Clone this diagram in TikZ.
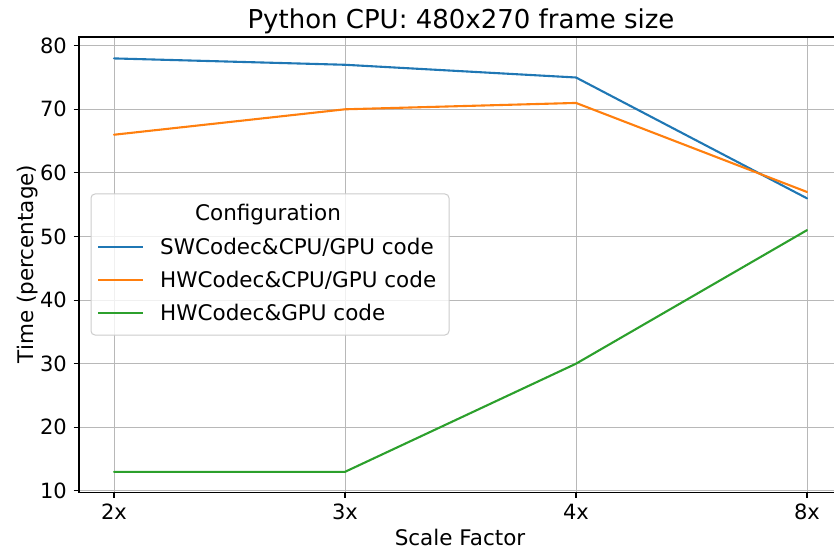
\documentclass[tikz,border=0pt]{standalone}
\usepackage{fontspec}
\setmainfont{DejaVu Sans}
\definecolor{tabblue}{HTML}{1F77B4}
\definecolor{taborange}{HTML}{FF7F0E}
\definecolor{tabgreen}{HTML}{2CA02C}
\definecolor{gridgray}{HTML}{B8B8B8}
\definecolor{legedge}{HTML}{CCCCCC}
\begin{document}
\begin{tikzpicture}[x=1pt,y=-1pt,
  gridline/.style={gridgray,line width=0.9pt},
  spine/.style={black,line width=1.1pt},
  tickmark/.style={black,line width=1.1pt},
  series/.style={line width=2.1pt,line join=round,line cap=round},
  ticklabel/.style={font=\fontsize{21}{21}\selectfont,inner sep=0pt},
  biglabel/.style={font=\fontsize{21.5}{21.5}\selectfont,inner sep=0pt},
  legtext/.style={font=\fontsize{21.5}{21.5}\selectfont,inner sep=0pt,anchor=base west},
  declare function={Y(\v)=490.9-6.36*(\v-10);}
]
\useasboundingbox (0,0) rectangle (834,553);
% grid
\foreach \xx in {114,345,576,807} \draw[gridline] (\xx,37) -- (\xx,492.5);
\foreach \v in {10,20,...,80} \draw[gridline] (79,{Y(\v)}) -- (842,{Y(\v)});
% spines
\draw[spine] (842,37) -- (79,37) -- (79,492.5) -- (842,492.5);
% ticks and tick labels
\foreach \xx/\lab in {114/2x,345/3x,576/4x,807/8x} {
  \draw[tickmark] (\xx,492.5) -- (\xx,498);
  \node[ticklabel,anchor=base] (xt\lab) at (\xx,519.5) {\lab};
}
\foreach \v in {10,20,...,80} {
  \draw[tickmark] (73.5,{Y(\v)}) -- (79,{Y(\v)});
  \node[ticklabel,anchor=east] (yt\v) at (67,{Y(\v)}) {\v};
}
% series
\draw[series,tabblue] (114,{Y(78)}) -- (345,{Y(77)}) -- (576,{Y(75)}) -- (807,{Y(56)});
\draw[series,taborange] (114,{Y(66)}) -- (345,{Y(70)}) -- (576,{Y(71)}) -- (807,{Y(57)});
\draw[series,tabgreen] (114,{Y(13)}) -- (345,{Y(13)}) -- (576,{Y(30)}) -- (807,{Y(51)});
% titles
\node[font=\fontsize{26}{26}\selectfont,inner sep=0pt,anchor=base] (title) at (461,29) {Python CPU: 480x270 frame size};
\node[biglabel,anchor=base] (xlabel) at (460,545) {Scale Factor};
\node[biglabel,anchor=base,rotate=90] (ylabel) at (33,264) {Time (percentage)};
% legend
\draw[legedge,line width=1pt,fill=white,fill opacity=0.8,rounded corners=4pt] (91,194) rectangle (449,335);
\node[legtext,anchor=base] (legtitle) at (268,220) {Configuration};
\draw[series,tabblue,line cap=butt] (98,247) -- (143,247);
\node[legtext] (leg1) at (160,254) {SWCodec\&CPU/GPU code};
\draw[series,taborange,line cap=butt] (98,280) -- (143,280);
\node[legtext] (leg2) at (160,287.3) {HWCodec\&CPU/GPU code};
\draw[series,tabgreen,line cap=butt] (98,313) -- (143,313);
\node[legtext] (leg3) at (160,320.5) {HWCodec\&GPU code};
\end{tikzpicture}
\end{document}
